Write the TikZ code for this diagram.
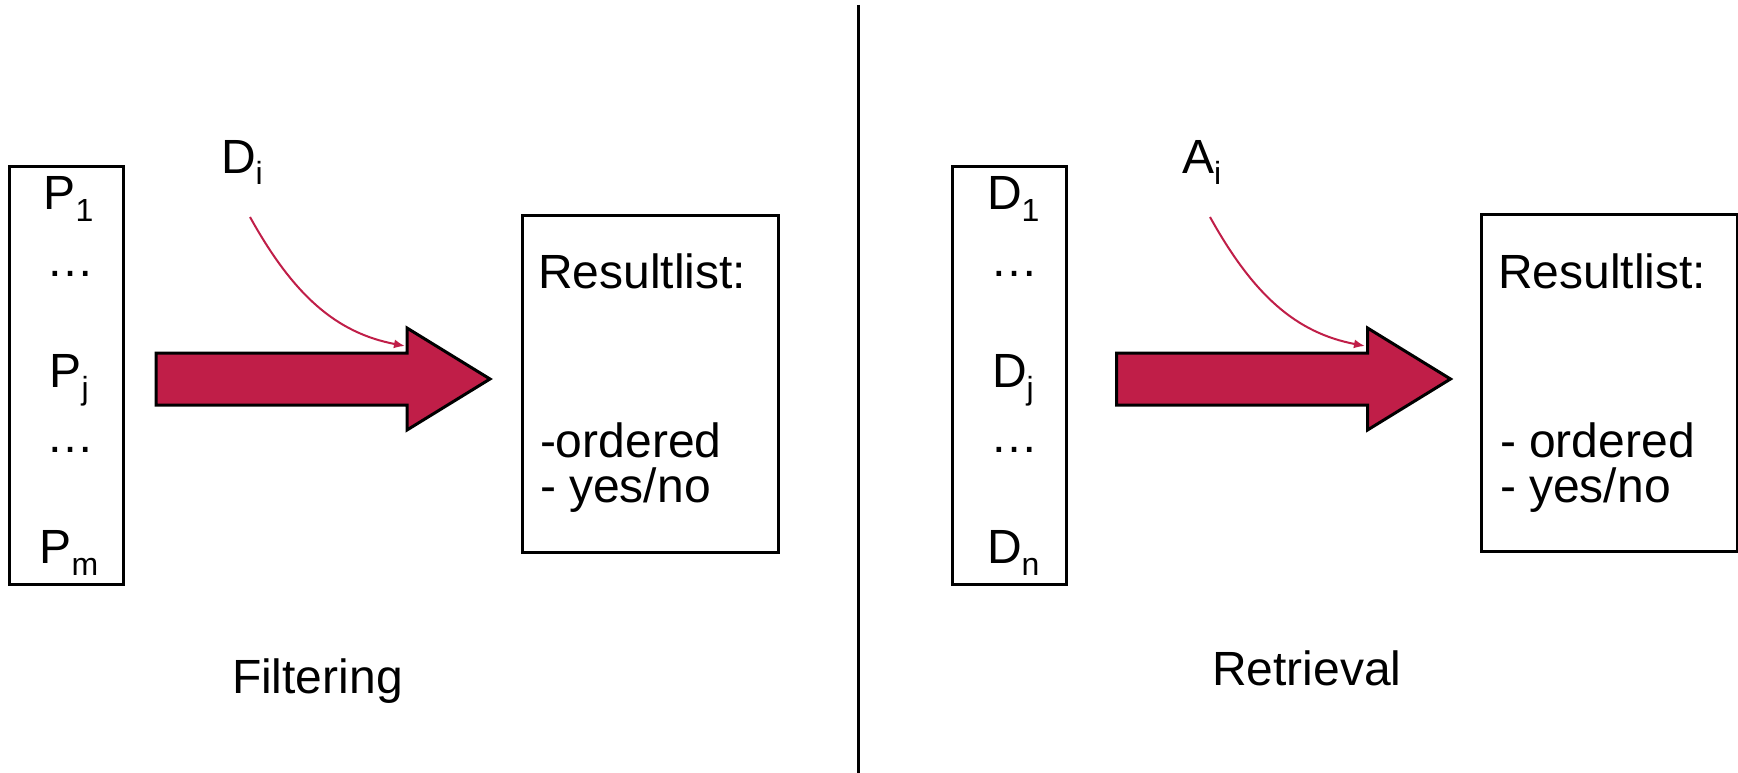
\documentclass[tikz,border=0pt]{standalone}
\usepackage{fontspec}
\setmainfont{Liberation Sans}
\usetikzlibrary{arrows.meta}
\definecolor{crim}{RGB}{192,30,72}
\newcommand{\sbs}[1]{\raisebox{-12pt}{\fontsize{32}{32}\selectfont #1}}
\tikzset{
  txt/.style={anchor=base west, inner sep=0pt, outer sep=0pt, font=\fontsize{48}{48}\selectfont},
  listbox/.style={draw=black, line width=3pt, inner sep=0pt, minimum width=114pt, minimum height=417pt},
  resbox/.style={draw=black, line width=3pt, inner sep=0pt, minimum width=256pt, minimum height=337pt},
  bigarrow/.style={fill=crim, draw=black, line width=3pt, line join=miter},
  thin/.style={draw=crim, line width=2pt, -{Latex[length=11pt,width=9pt]}},
}
\begin{document}
\begin{tikzpicture}[x=1pt,y=-1pt]
\useasboundingbox (0,0) rectangle (1738,773);
\fill[white] (0,0) rectangle (1738,773);

% divider
\coordinate (vtop) at (858,5);
\coordinate (vbot) at (858,773);
\draw[line width=3pt] (vtop) -- (vbot);

% ---------- left: Filtering ----------
\node[listbox] (plist) at (66,375.5) {};
\node[txt] (p1) at (43.5,209) {P\sbs{1}};
\node[txt] (pd1) at (46.5,276) {…};
\node[txt] (pj) at (49.5,387) {P\sbs{j}};
\node[txt] (pd2) at (46.5,452) {…};
\node[txt] (pm) at (39.5,563) {P\sbs{m}};

\draw[bigarrow] (156,353) -- (407,353) -- (407,328) -- (490,379) -- (407,430) -- (407,405) -- (156,405) -- cycle;

\node[txt] (di) at (221,173) {D\sbs{i}};
\coordinate (ds) at (250,217);
\coordinate (de) at (405,346);
\draw[thin] (ds) .. controls (293.7,295.7) and (336.3,332.8) .. (de);

\node[resbox] (res1) at (650,383.5) {};
\node[txt] (r1a) at (538,288) {Resultlist:};
\node[txt] (r1b) at (540,457) {-ordered};
\node[txt] (r1c) at (540,502) {- yes/no};

\node[txt] (filt) at (232,693) {Filtering};

% ---------- right: Retrieval ----------
\node[listbox] (dlist) at (1009.5,375.5) {};
\node[txt] (d1) at (987,209) {D\sbs{1}};
\node[txt] (dd1) at (990,276) {…};
\node[txt] (dj) at (992,387) {D\sbs{j}};
\node[txt] (dd2) at (990,452) {…};
\node[txt] (dn) at (987,563) {D\sbs{n}};

\begin{scope}[xshift=960.5pt]
\draw[bigarrow] (156,353) -- (407,353) -- (407,328) -- (490,379) -- (407,430) -- (407,405) -- (156,405) -- cycle;
\end{scope}

\node[txt] (ai) at (1182,173) {A\sbs{i}};
\coordinate (as) at (1210,217);
\coordinate (ae) at (1365,346);
\draw[thin] (as) .. controls (1253.7,295.7) and (1296.3,332.8) .. (ae);

\node[resbox] (res2) at (1609.5,383) {};
\node[txt] (r2a) at (1498,288) {Resultlist:};
\node[txt] (r2b) at (1500,457) {- ordered};
\node[txt] (r2c) at (1500,502) {- yes/no};

\node[txt] (retr) at (1212,685) {Retrieval};
\end{tikzpicture}
\end{document}
